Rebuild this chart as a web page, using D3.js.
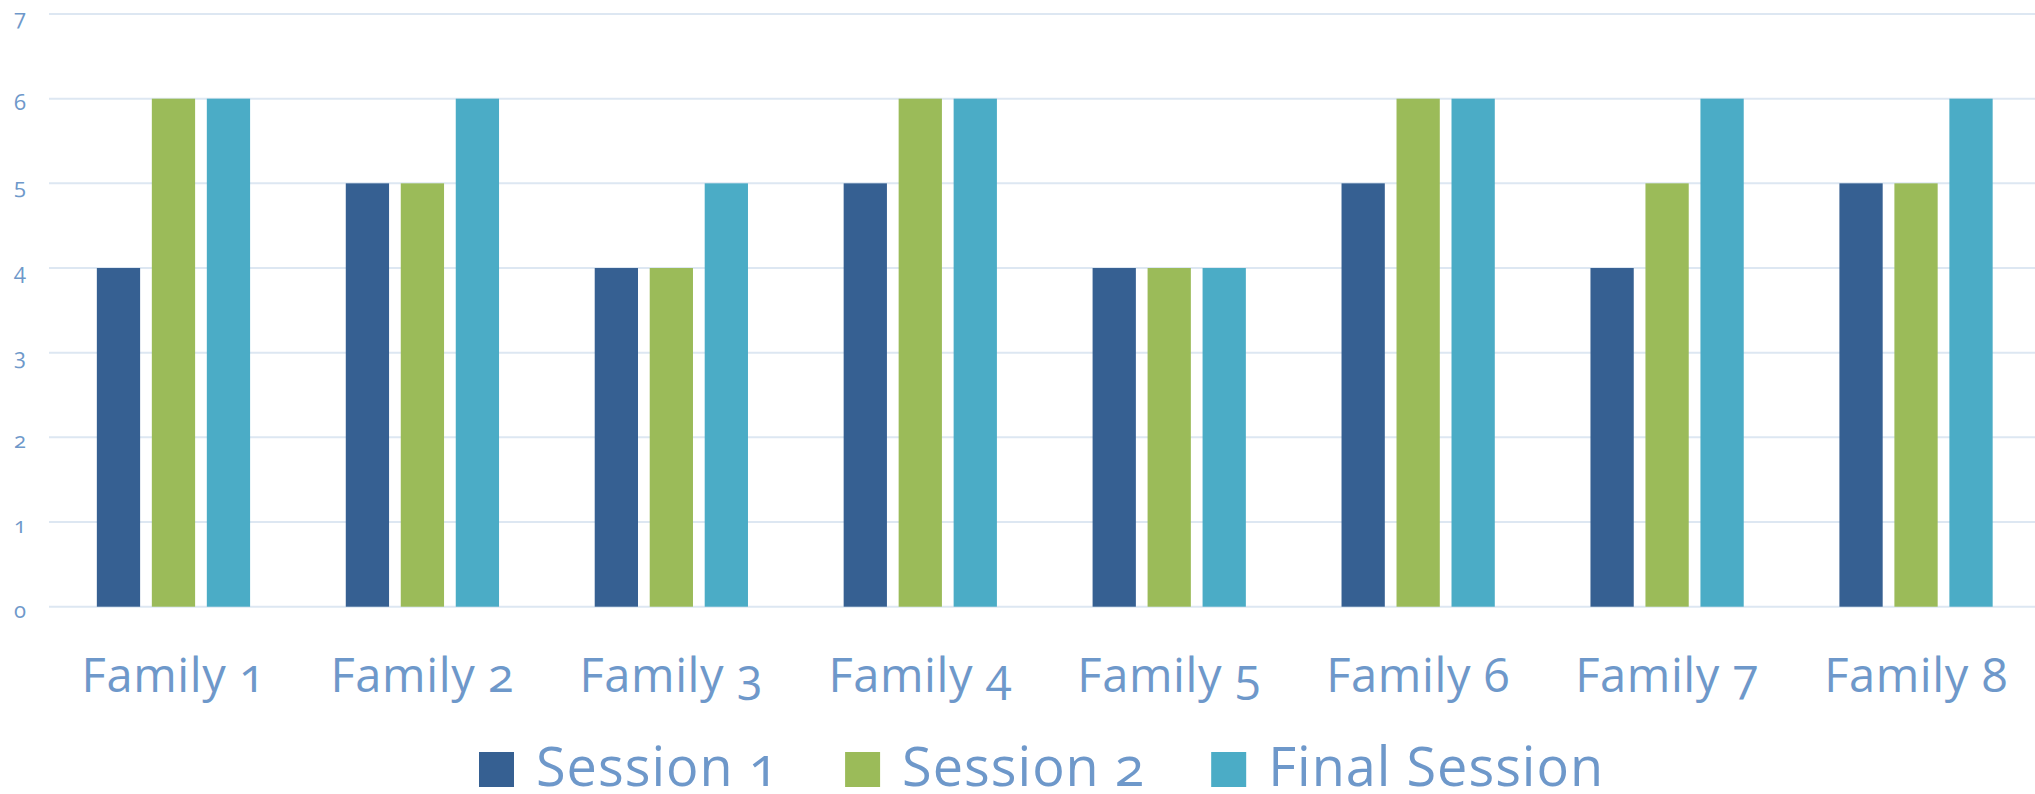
<!DOCTYPE html>
<html>
<head>
<meta charset="utf-8">
<script src="https://cdn.jsdelivr.net/npm/d3@7"></script>
<style>
  html, body { margin: 0; padding: 0; background: #fff; }
  svg { display: block; }
  text { font-family: "Open Sans", "Lato", sans-serif; fill: #6e98ca; font-variant-numeric: oldstyle-nums; font-feature-settings: "onum" 1; }
</style>
</head>
<body>
<svg id="chart" width="2035" height="794"></svg>
<script>
const categories = ["Family 1", "Family 2", "Family 3", "Family 4", "Family 5", "Family 6", "Family 7", "Family 8"];
const seriesNames = ["Session 1", "Session 2", "Final Session"];
const session1 = [4, 5, 4, 5, 4, 5, 4, 5];
const session2 = [6, 5, 4, 6, 4, 6, 5, 5];
const finalSession = [6, 6, 5, 6, 4, 6, 6, 6];
const yTicks = [0, 1, 2, 3, 4, 5, 6, 7];
const colors = ["#366092", "#9bbb59", "#4bacc6"];

const seriesValues = [session1, session2, finalSession];
const rows = categories.map((c, i) => ({
  category: c,
  values: seriesNames.map((s, j) => ({ series: s, value: seriesValues[j][i], color: colors[j] }))
}));

const svg = d3.select("#chart");

const y = d3.scaleLinear().domain([0, 7]).range([606.7, 14]);
const x0 = d3.scaleBand().domain(categories).range([49, 2040.5]).padding(0);
const x1 = d3.scaleBand().domain(seriesNames).range([0, x0.bandwidth()])
  .paddingInner(0.213).paddingOuter(0.87);

// gridlines
svg.append("g").selectAll("line").data(yTicks).join("line")
  .attr("x1", 49).attr("x2", 2035)
  .attr("y1", d => y(d)).attr("y2", d => y(d))
  .attr("stroke", "#dde7f2").attr("stroke-width", 2);

// y tick labels
svg.append("g").selectAll("text").data(yTicks).join("text")
  .attr("x", 20).attr("y", d => y(d) + 11)
  .attr("text-anchor", "middle")
  .attr("font-size", 22)
  .text(d => d);

// bars
const groups = svg.append("g").selectAll("g").data(rows).join("g")
  .attr("transform", d => `translate(${x0(d.category)},0)`);
groups.selectAll("rect").data(d => d.values).join("rect")
  .attr("x", d => x1(d.series))
  .attr("width", x1.bandwidth())
  .attr("y", d => y(d.value))
  .attr("height", d => y(0) - y(d.value))
  .attr("fill", d => d.color);

// category labels
svg.append("g").selectAll("text").data(categories).join("text")
  .attr("x", d => x0(d) + x0.bandwidth() / 2)
  .attr("y", 692)
  .attr("text-anchor", "middle")
  .attr("font-size", 47)
  .attr("letter-spacing", 0.6)
  .text(d => d);

// legend
const legend = svg.append("g");
let lx = 479;
seriesNames.forEach((s, i) => {
  legend.append("rect").attr("x", lx).attr("y", 752).attr("width", 35).attr("height", 35).attr("fill", colors[i]);
  const t = legend.append("text").attr("x", lx + 57).attr("y", 786)
    .attr("font-size", 54).attr("letter-spacing", 1).text(s);
  const w = t.node().getComputedTextLength();
  lx = lx + 57 + w + 66;
});
</script>
</body>
</html>
